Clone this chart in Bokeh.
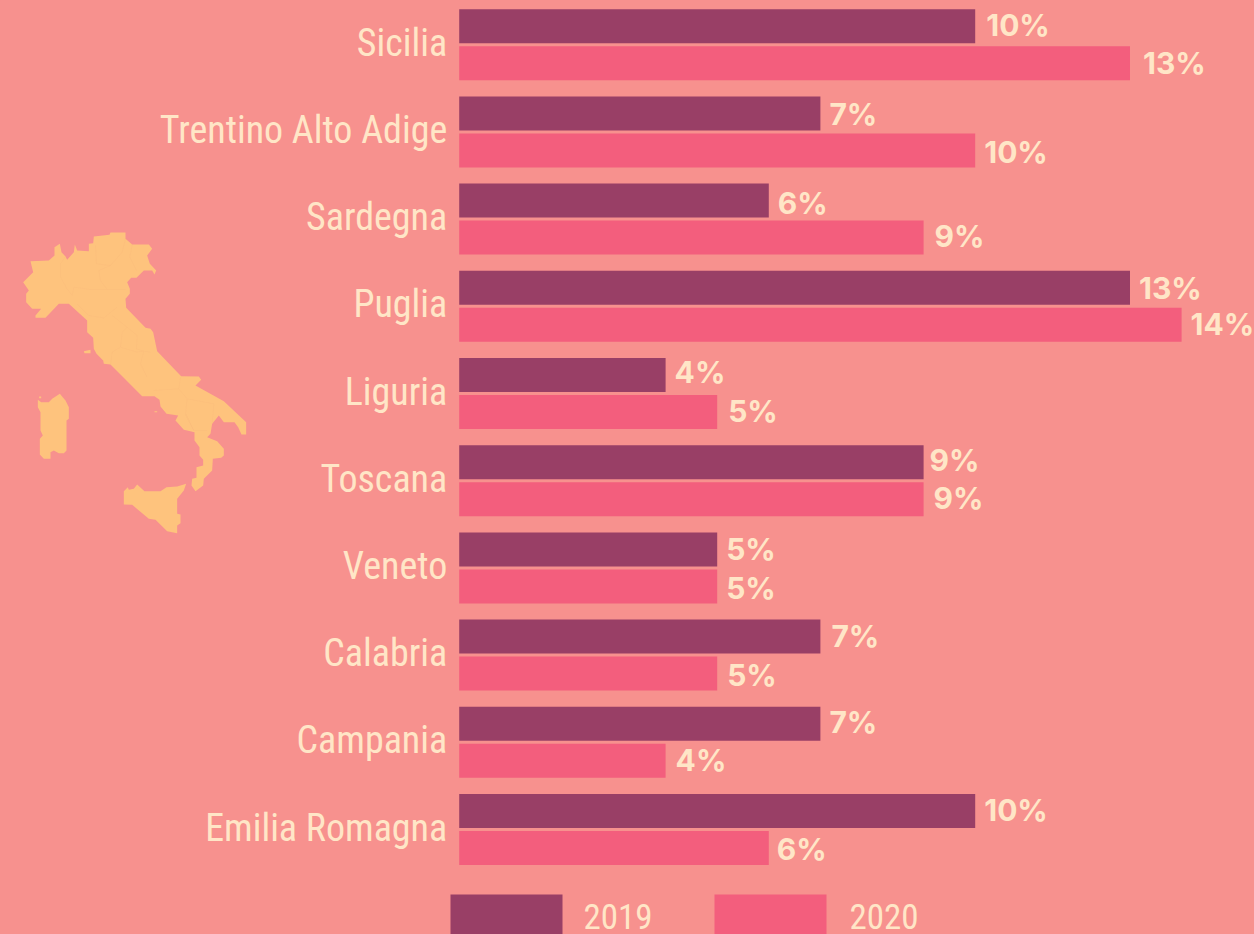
import numpy as np
from bokeh.plotting import figure
from bokeh.models import Range1d, ColumnDataSource, BoxAnnotation, Label
from bokeh.core.properties import value
from bokeh.embed import file_html
from bokeh.resources import INLINE

regions = ["Sicilia", "Trentino Alto Adige", "Sardegna", "Puglia", "Liguria",
           "Toscana", "Veneto", "Calabria", "Campania", "Emilia Romagna"]
values_2019 = [10, 7, 6, 13, 4, 9, 5, 7, 7, 10]
values_2020 = [13, 10, 9, 14, 5, 9, 5, 5, 4, 6]
years = ["2019", "2020"]

BG, DARK, PINK, MAP, TEXT, BORDER = "#f7918e", "#993f66", "#f35e7d", "#fec37d", "#ffe6c7", "#f9b97c"
LABEL_FONT = "Roboto Condensed"
VALUE_FONT = "Inter"

# small nudges of the value labels, in pixels
dx_2019 = [11, 9, 9, 9, 9, 6, 9, 11, 9, 9]
dx_2020 = [13, 9, 11, 9, 11, 10, 9, 10, 10, 8]
dy_2019 = [-1, 1, 2, 0, -3, -2, 0, -1, -2, -1]
dy_2020 = [0, 2, -2, -1, -1, -1, 2, 1, -1, 1]

# map outline at 3x: (x, y) pairs of a crop at origin (10, 220) or (10, 370)
north = [(60,122),(115,120),(132,105),(132,80),(148,70),(153,95),(165,108),(170,118),(190,95),(193,72),(200,90),
         (235,92),(235,70),(248,68),(250,48),(297,43),(300,36),(345,36),(345,55),(365,72),(415,72),(425,85),(410,105),
         (418,130),(437,150),(432,162),(425,150),(400,150),(378,172),(362,172),(350,185),(358,205),(358,220),(345,235),
         (347,262),(405,322),(420,325),(428,335),(440,392),(512,467)]
south = [(565,18),(572,28),(555,45),(640,92),(707,155),(707,192),(693,192),(683,170),(672,155),(640,155),(625,135),
         (605,160),(600,190),(590,200),(620,212),(640,235),(640,255),(632,262),(607,265),(605,300),(580,325),(578,345),
         (555,362),(543,345),(545,325),(558,322),(558,290),(578,285),(578,268),(567,255),(567,230),(552,210),(552,185),
         (520,178),(495,150),(503,135),(468,130),(450,108),(447,88),(432,77),(395,77),(318,0)]
west = [(300,432),(280,430),(278,420),(258,400),(250,385),(248,352),(230,335),(230,300),(175,250),(145,250),(105,292),
        (75,292),(75,285),(92,265),(65,265),(47,245),(47,220),(55,210),(38,185),(68,155),(60,122)]
sardinia = [(82,88),(92,95),(115,95),(125,85),(148,70),(165,90),(175,110),(175,145),(168,150),(168,240),(160,248),
            (145,248),(130,240),(120,245),(120,265),(100,265),(88,252),(88,205),(97,195),(90,180),(90,125),(82,110)]
sardinia_islet = [(86,78),(92,78),(92,83),(86,83)]
sicily = [(340,362),(352,350),(355,358),(370,355),(380,342),(402,362),(450,362),(468,350),(500,348),(527,340),(520,360),
          (500,385),(500,430),(510,432),(510,458),(500,465),(500,488),(470,482),(435,448),(415,445),(365,403),(340,402)]
elba = [(220,392),(240,388),(240,398),(222,398)]
ischia = [(432,122),(440,122),(440,125),(432,125)]
borders_north = [
    [(165,108),(150,130),(150,170),(170,205),(185,225)],
    [(185,225),(190,200),(240,207),(345,207)],
    [(255,75),(258,130),(300,135),(335,95),(345,55)],
    [(300,135),(265,150),(270,180),(290,207)],
    [(365,72),(358,110),(378,150)],
    [(200,250),(235,285),(280,292),(320,260)],
    [(305,285),(350,320),(335,335),(330,380),(305,395),(300,432)],
    [(350,320),(380,345),(378,385),(400,392),(420,395)],
    [(330,380),(380,395),(400,392),(390,430),(410,470)],
]
borders_south = [
    [(430,60),(505,55),(530,85),(525,130),(550,180)],
    [(505,55),(510,20)],
    [(530,85),(610,100),(605,160)],
    [(525,130),(550,180),(590,180)],
]

def from_north(pts):
    return [10 + a / 3 for a, _ in pts], [220 + b / 3 for _, b in pts]

def from_south(pts):
    return [10 + a / 3 for a, _ in pts], [370 + b / 3 for _, b in pts]

mx_n, my_n = from_north(north)
mx_s, my_s = from_south(south)
mx_w, my_w = from_north(west)
shapes = [(mx_n + mx_s + mx_w, my_n + my_s + my_w),
          from_south(sardinia), from_south(sardinia_islet), from_south(sicily),
          from_north(elba), from_south(ischia)]

PX = 51.6          # pixels per percent
ROW = 87.2         # pixels per row
W, H = 1254, 934
x0, y0 = 458.7, 44.2  # pixel position of 0 % and of the first row

p = figure(width=W, height=H, output_backend="svg", toolbar_location=None,
           x_range=Range1d(-x0 / PX, (W - x0) / PX),
           y_range=Range1d((H - y0) / ROW, -y0 / ROW),
           min_border=0, background_fill_color=BG, border_fill_color=BG, outline_line_color=None)
p.axis.visible = False
p.grid.visible = False
p.extra_x_ranges["px"] = Range1d(0, W)
p.extra_y_ranges["px"] = Range1d(H, 0)

# map
p.patches([s[0] for s in shapes], [s[1] for s in shapes], fill_color=MAP, line_color=None,
          x_range_name="px", y_range_name="px")
bl = [from_north(b) for b in borders_north] + [from_south(b) for b in borders_south]
p.multi_line([b[0] for b in bl], [b[1] for b in bl], line_color=BORDER, line_width=1, line_alpha=0.35,
             x_range_name="px", y_range_name="px")

rows = np.arange(len(regions))
src = ColumnDataSource(dict(
    y=rows, region=regions, v19=values_2019, v20=values_2020,
    t19=[f"{v}%" for v in values_2019], t20=[f"{v}%" for v in values_2020],
    dx19=dx_2019, dx20=dx_2020, dy19=dy_2019, dy20=dy_2020,
))
BAR = 34 / ROW
p.hbar(y=rows - 18.5 / ROW, right=values_2019, left=0, height=BAR, fill_color=DARK, line_color=None)
p.hbar(y=rows + 18.5 / ROW, right=values_2020, left=0, height=BAR, fill_color=PINK, line_color=None)

p.text(x=0, y="y", text="region", source=src, x_offset=-12, y_offset=-2, text_align="right", text_baseline="middle",
       text_font=value(LABEL_FONT), text_font_size="38px", text_color=TEXT)

for col, off, dxc, dyc, txt in (("v19", -18.5, "dx19", "dy19", "t19"), ("v20", 18.5, "dx20", "dy20", "t20")):
    s = ColumnDataSource(dict(x=src.data[col], y=rows + off / ROW, t=src.data[txt], dx=src.data[dxc], dy=src.data[dyc]))
    p.text(x="x", y="y", text="t", source=s, x_offset="dx", y_offset="dy", text_align="left", text_baseline="middle",
           text_font=value(VALUE_FONT), text_font_style="bold", text_font_size="30px", text_color=TEXT)

# legend
for yr, col, left, tx in ((years[0], DARK, 450, 583), (years[1], PINK, 714, 849)):
    p.add_layout(BoxAnnotation(left=left, right=left + 112, top=40, bottom=0, left_units="screen", right_units="screen",
                               top_units="screen", bottom_units="screen", fill_color=col, fill_alpha=1, line_color=None))
    p.add_layout(Label(x=tx, y=H - 915.5, x_units="screen", y_units="screen", text=yr, text_color=TEXT,
                       text_font=LABEL_FONT, text_font_size="35px", text_baseline="middle", text_align="left"))

open("out.html", "w").write(file_html(p, INLINE).replace(
    "<head>", f"<head><style>html,body{{margin:0;padding:0;background:{BG};overflow:hidden}}</style>", 1))
